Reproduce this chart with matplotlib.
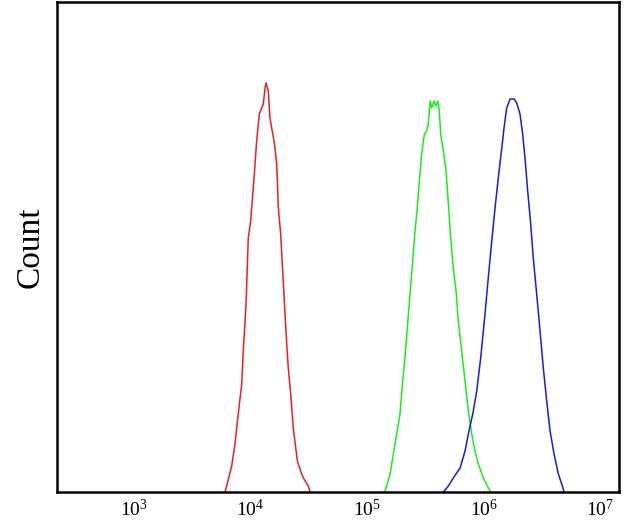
import numpy as np
import matplotlib
matplotlib.use('Agg')
import matplotlib.pyplot as plt
from matplotlib.ticker import FixedLocator, NullLocator

plt.rcParams['mathtext.fontset'] = 'custom'
plt.rcParams['mathtext.rm'] = 'Liberation Serif'
plt.rcParams['mathtext.it'] = 'Liberation Serif:italic'
plt.rcParams['font.family'] = ['Liberation Serif', 'DejaVu Serif']

# histogram outlines: log10(fluorescence) and count
red_log = [3.78, 3.795, 3.838, 3.866, 3.894, 3.924, 3.937, 3.961, 3.980, 4.001, 4.009,
           4.023, 4.038, 4.052, 4.075, 4.095, 4.109, 4.124, 4.132, 4.152, 4.166,
           4.181, 4.201, 4.224, 4.238, 4.258, 4.275, 4.295, 4.310, 4.323, 4.344,
           4.366, 4.401, 4.438, 4.467, 4.495, 4.51]
red_count = [0, 6, 26, 48, 78, 108, 141, 188, 254, 271, 284,
             304, 328, 351, 378, 384, 388, 404, 409, 401, 374,
             364, 351, 328, 284, 258, 221, 178, 148, 124, 98,
             64, 31, 18, 11, 6, 0]

green_log = [5.153, 5.196, 5.224, 5.253, 5.281, 5.304, 5.324, 5.344, 5.367, 5.390,
             5.410, 5.429, 5.447, 5.467, 5.490, 5.510, 5.524, 5.539, 5.553, 5.573,
             5.590, 5.605, 5.618, 5.630, 5.653, 5.676, 5.696, 5.716, 5.738, 5.762,
             5.781, 5.810, 5.839, 5.867, 5.896, 5.924, 5.953, 5.996, 6.039, 6.059]
green_count = [1, 18, 38, 58, 78, 111, 134, 164, 198, 231,
               261, 284, 311, 338, 358, 361, 368, 391, 384, 391,
               386, 391, 381, 358, 341, 321, 288, 254, 224, 201,
               171, 141, 111, 81, 58, 41, 28, 14, 4, 0]

blue_log = [5.653, 5.696, 5.738, 5.796, 5.839, 5.867, 5.905, 5.939, 5.973, 6.010,
            6.038, 6.068, 6.096, 6.124, 6.154, 6.173, 6.196, 6.225, 6.259, 6.282,
            6.310, 6.333, 6.353, 6.376, 6.402, 6.424, 6.453, 6.482, 6.510, 6.539,
            6.568, 6.602, 6.639, 6.668, 6.688]
blue_count = [0, 6, 14, 24, 41, 58, 78, 101, 134, 178,
              214, 251, 284, 314, 344, 364, 384, 393, 393, 389,
              378, 358, 334, 301, 268, 234, 198, 161, 124, 91,
              61, 38, 18, 8, 0]

tick_exps = [3, 4, 5, 6, 7]

fig = plt.figure(figsize=(6.3, 5.29), dpi=100)
ax = fig.add_axes([57 / 630, 37 / 529, 562 / 630, 490 / 529])

ax.plot(10 ** np.array(red_log), red_count, color='#f01c24', lw=1.1)
ax.plot(10 ** np.array(green_log), green_count, color='#1aee1a', lw=1.1)
ax.plot(10 ** np.array(blue_log), blue_count, color='#1a1add', lw=1.1)

ax.set_xscale('log')
ax.set_xlim(10 ** 2.34, 10 ** 7.159)
ax.set_ylim(0, 490)

ax.xaxis.set_major_locator(FixedLocator([10.0 ** e for e in tick_exps]))
ax.xaxis.set_minor_locator(NullLocator())
ax.set_xticklabels([f'$10^{{{e}}}$' for e in tick_exps])
ax.yaxis.set_major_locator(NullLocator())
ax.tick_params(axis='x', length=0, pad=5, labelsize=14)

for s in ax.spines.values():
    s.set_linewidth(1.8)

ax.set_ylabel('Count', fontsize=24, labelpad=8)

fig.savefig('out.png', dpi=100)
